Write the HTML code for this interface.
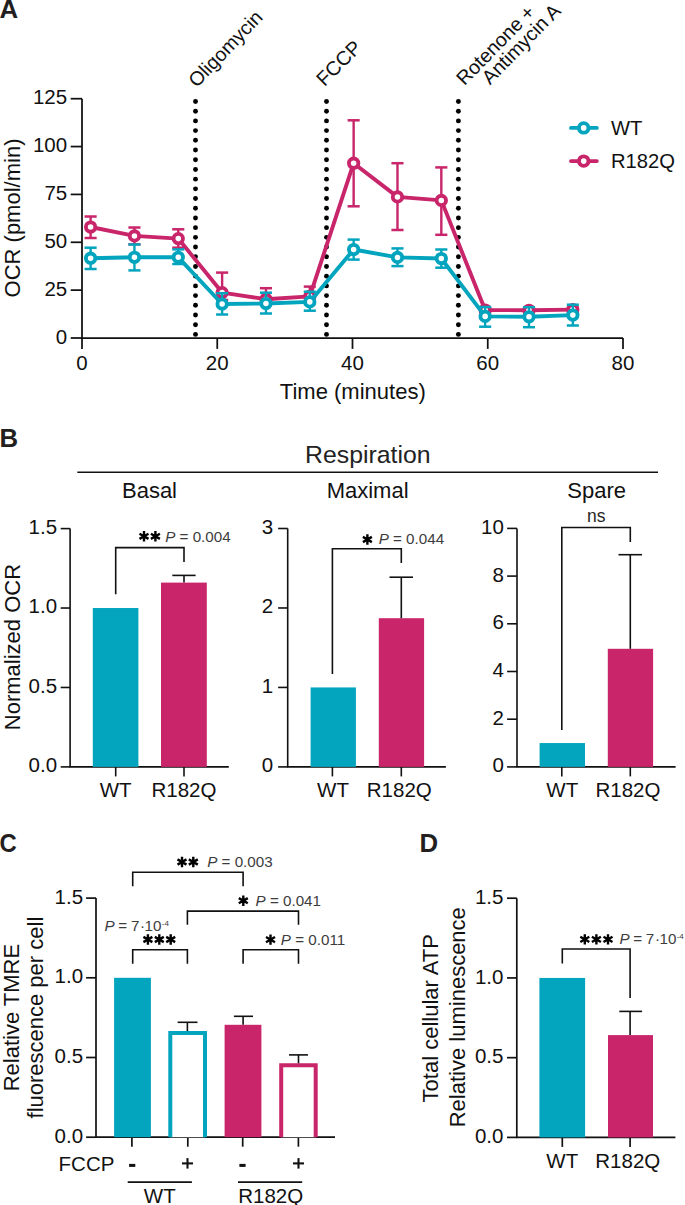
<!DOCTYPE html>
<html><head><meta charset="utf-8"><style>
html,body{margin:0;padding:0;background:#fff;}
svg{display:block;}
text{font-family:"Liberation Sans", sans-serif;}
</style></head><body>
<svg width="685" height="1205" viewBox="0 0 685 1205" font-family='"Liberation Sans", sans-serif'>
<rect width="685" height="1205" fill="#fff"/>
<text x="-0.64" y="17.50" font-size="25.8" text-anchor="start" font-weight="bold" font-style="normal" fill="#231f20">A</text>
<path d="M82 98.70V338H623.00" stroke="#111111" stroke-width="1.75" fill="none" stroke-linejoin="miter" stroke-linecap="butt"/>
<line x1="70.70" y1="338.00" x2="82.00" y2="338.00" stroke="#111111" stroke-width="1.75" stroke-linecap="butt"/>
<text x="67.20" y="343.50" font-size="20.5" text-anchor="end" font-weight="normal" font-style="normal" fill="#111111">0</text>
<line x1="70.70" y1="290.14" x2="82.00" y2="290.14" stroke="#111111" stroke-width="1.75" stroke-linecap="butt"/>
<text x="67.20" y="295.64" font-size="20.5" text-anchor="end" font-weight="normal" font-style="normal" fill="#111111">25</text>
<line x1="70.70" y1="242.28" x2="82.00" y2="242.28" stroke="#111111" stroke-width="1.75" stroke-linecap="butt"/>
<text x="67.20" y="247.78" font-size="20.5" text-anchor="end" font-weight="normal" font-style="normal" fill="#111111">50</text>
<line x1="70.70" y1="194.42" x2="82.00" y2="194.42" stroke="#111111" stroke-width="1.75" stroke-linecap="butt"/>
<text x="67.20" y="199.92" font-size="20.5" text-anchor="end" font-weight="normal" font-style="normal" fill="#111111">75</text>
<line x1="70.70" y1="146.56" x2="82.00" y2="146.56" stroke="#111111" stroke-width="1.75" stroke-linecap="butt"/>
<text x="67.20" y="152.06" font-size="20.5" text-anchor="end" font-weight="normal" font-style="normal" fill="#111111">100</text>
<line x1="70.70" y1="98.70" x2="82.00" y2="98.70" stroke="#111111" stroke-width="1.75" stroke-linecap="butt"/>
<text x="67.20" y="104.20" font-size="20.5" text-anchor="end" font-weight="normal" font-style="normal" fill="#111111">125</text>
<line x1="82.00" y1="338.00" x2="82.00" y2="348.90" stroke="#111111" stroke-width="1.75" stroke-linecap="butt"/>
<text x="82.00" y="369.60" font-size="20.5" text-anchor="middle" font-weight="normal" font-style="normal" fill="#111111">0</text>
<line x1="217.25" y1="338.00" x2="217.25" y2="348.90" stroke="#111111" stroke-width="1.75" stroke-linecap="butt"/>
<text x="217.25" y="369.60" font-size="20.5" text-anchor="middle" font-weight="normal" font-style="normal" fill="#111111">20</text>
<line x1="352.50" y1="338.00" x2="352.50" y2="348.90" stroke="#111111" stroke-width="1.75" stroke-linecap="butt"/>
<text x="352.50" y="369.60" font-size="20.5" text-anchor="middle" font-weight="normal" font-style="normal" fill="#111111">40</text>
<line x1="487.75" y1="338.00" x2="487.75" y2="348.90" stroke="#111111" stroke-width="1.75" stroke-linecap="butt"/>
<text x="487.75" y="369.60" font-size="20.5" text-anchor="middle" font-weight="normal" font-style="normal" fill="#111111">60</text>
<line x1="623.00" y1="338.00" x2="623.00" y2="348.90" stroke="#111111" stroke-width="1.75" stroke-linecap="butt"/>
<text x="623.00" y="369.60" font-size="20.5" text-anchor="middle" font-weight="normal" font-style="normal" fill="#111111">80</text>
<text x="352.80" y="399.00" font-size="22" text-anchor="middle" font-weight="normal" font-style="normal" fill="#111111">Time (minutes)</text>
<text x="19.90" y="218.00" font-size="22" text-anchor="middle" font-weight="normal" font-style="normal" fill="#111111" transform="rotate(-90 19.90 218.00)">OCR (pmol/min)</text>
<circle cx="195.5" cy="101.50" r="2.45" fill="#000"/>
<circle cx="195.5" cy="111.20" r="2.45" fill="#000"/>
<circle cx="195.5" cy="120.91" r="2.45" fill="#000"/>
<circle cx="195.5" cy="130.61" r="2.45" fill="#000"/>
<circle cx="195.5" cy="140.32" r="2.45" fill="#000"/>
<circle cx="195.5" cy="150.02" r="2.45" fill="#000"/>
<circle cx="195.5" cy="159.72" r="2.45" fill="#000"/>
<circle cx="195.5" cy="169.43" r="2.45" fill="#000"/>
<circle cx="195.5" cy="179.13" r="2.45" fill="#000"/>
<circle cx="195.5" cy="188.84" r="2.45" fill="#000"/>
<circle cx="195.5" cy="198.54" r="2.45" fill="#000"/>
<circle cx="195.5" cy="208.24" r="2.45" fill="#000"/>
<circle cx="195.5" cy="217.95" r="2.45" fill="#000"/>
<circle cx="195.5" cy="227.65" r="2.45" fill="#000"/>
<circle cx="195.5" cy="237.36" r="2.45" fill="#000"/>
<circle cx="195.5" cy="247.06" r="2.45" fill="#000"/>
<circle cx="195.5" cy="256.76" r="2.45" fill="#000"/>
<circle cx="195.5" cy="266.47" r="2.45" fill="#000"/>
<circle cx="195.5" cy="276.17" r="2.45" fill="#000"/>
<circle cx="195.5" cy="285.88" r="2.45" fill="#000"/>
<circle cx="195.5" cy="295.58" r="2.45" fill="#000"/>
<circle cx="195.5" cy="305.28" r="2.45" fill="#000"/>
<circle cx="195.5" cy="314.99" r="2.45" fill="#000"/>
<circle cx="195.5" cy="324.69" r="2.45" fill="#000"/>
<circle cx="195.5" cy="334.40" r="2.45" fill="#000"/>
<circle cx="326.5" cy="101.50" r="2.45" fill="#000"/>
<circle cx="326.5" cy="111.20" r="2.45" fill="#000"/>
<circle cx="326.5" cy="120.91" r="2.45" fill="#000"/>
<circle cx="326.5" cy="130.61" r="2.45" fill="#000"/>
<circle cx="326.5" cy="140.32" r="2.45" fill="#000"/>
<circle cx="326.5" cy="150.02" r="2.45" fill="#000"/>
<circle cx="326.5" cy="159.72" r="2.45" fill="#000"/>
<circle cx="326.5" cy="169.43" r="2.45" fill="#000"/>
<circle cx="326.5" cy="179.13" r="2.45" fill="#000"/>
<circle cx="326.5" cy="188.84" r="2.45" fill="#000"/>
<circle cx="326.5" cy="198.54" r="2.45" fill="#000"/>
<circle cx="326.5" cy="208.24" r="2.45" fill="#000"/>
<circle cx="326.5" cy="217.95" r="2.45" fill="#000"/>
<circle cx="326.5" cy="227.65" r="2.45" fill="#000"/>
<circle cx="326.5" cy="237.36" r="2.45" fill="#000"/>
<circle cx="326.5" cy="247.06" r="2.45" fill="#000"/>
<circle cx="326.5" cy="256.76" r="2.45" fill="#000"/>
<circle cx="326.5" cy="266.47" r="2.45" fill="#000"/>
<circle cx="326.5" cy="276.17" r="2.45" fill="#000"/>
<circle cx="326.5" cy="285.88" r="2.45" fill="#000"/>
<circle cx="326.5" cy="295.58" r="2.45" fill="#000"/>
<circle cx="326.5" cy="305.28" r="2.45" fill="#000"/>
<circle cx="326.5" cy="314.99" r="2.45" fill="#000"/>
<circle cx="326.5" cy="324.69" r="2.45" fill="#000"/>
<circle cx="326.5" cy="334.40" r="2.45" fill="#000"/>
<circle cx="458.4" cy="101.50" r="2.45" fill="#000"/>
<circle cx="458.4" cy="111.20" r="2.45" fill="#000"/>
<circle cx="458.4" cy="120.91" r="2.45" fill="#000"/>
<circle cx="458.4" cy="130.61" r="2.45" fill="#000"/>
<circle cx="458.4" cy="140.32" r="2.45" fill="#000"/>
<circle cx="458.4" cy="150.02" r="2.45" fill="#000"/>
<circle cx="458.4" cy="159.72" r="2.45" fill="#000"/>
<circle cx="458.4" cy="169.43" r="2.45" fill="#000"/>
<circle cx="458.4" cy="179.13" r="2.45" fill="#000"/>
<circle cx="458.4" cy="188.84" r="2.45" fill="#000"/>
<circle cx="458.4" cy="198.54" r="2.45" fill="#000"/>
<circle cx="458.4" cy="208.24" r="2.45" fill="#000"/>
<circle cx="458.4" cy="217.95" r="2.45" fill="#000"/>
<circle cx="458.4" cy="227.65" r="2.45" fill="#000"/>
<circle cx="458.4" cy="237.36" r="2.45" fill="#000"/>
<circle cx="458.4" cy="247.06" r="2.45" fill="#000"/>
<circle cx="458.4" cy="256.76" r="2.45" fill="#000"/>
<circle cx="458.4" cy="266.47" r="2.45" fill="#000"/>
<circle cx="458.4" cy="276.17" r="2.45" fill="#000"/>
<circle cx="458.4" cy="285.88" r="2.45" fill="#000"/>
<circle cx="458.4" cy="295.58" r="2.45" fill="#000"/>
<circle cx="458.4" cy="305.28" r="2.45" fill="#000"/>
<circle cx="458.4" cy="314.99" r="2.45" fill="#000"/>
<circle cx="458.4" cy="324.69" r="2.45" fill="#000"/>
<circle cx="458.4" cy="334.40" r="2.45" fill="#000"/>
<text x="196.80" y="88.30" font-size="19.6" text-anchor="start" font-weight="normal" font-style="normal" fill="#111111" transform="rotate(-46.2 196.80 88.30)">Oligomycin</text>
<text x="324.40" y="87.20" font-size="20" text-anchor="start" font-weight="normal" font-style="normal" fill="#111111" transform="rotate(-45 324.40 87.20)">FCCP</text>
<text x="464.50" y="86.30" font-size="19.7" text-anchor="start" font-weight="normal" font-style="normal" fill="#111111" transform="rotate(-45.6 464.50 86.30)">Rotenone +</text>
<text x="490.00" y="85.50" font-size="19.7" text-anchor="start" font-weight="normal" font-style="normal" fill="#111111" transform="rotate(-45.6 490.00 85.50)">Antimycin A</text>
<line x1="90.60" y1="216.50" x2="90.60" y2="238.00" stroke="#C8256A" stroke-width="2.4" stroke-linecap="butt"/>
<line x1="84.55" y1="216.50" x2="96.65" y2="216.50" stroke="#C8256A" stroke-width="2.5" stroke-linecap="butt"/>
<line x1="84.55" y1="238.00" x2="96.65" y2="238.00" stroke="#C8256A" stroke-width="2.5" stroke-linecap="butt"/>
<line x1="134.44" y1="227.50" x2="134.44" y2="244.30" stroke="#C8256A" stroke-width="2.4" stroke-linecap="butt"/>
<line x1="128.39" y1="227.50" x2="140.49" y2="227.50" stroke="#C8256A" stroke-width="2.5" stroke-linecap="butt"/>
<line x1="128.39" y1="244.30" x2="140.49" y2="244.30" stroke="#C8256A" stroke-width="2.5" stroke-linecap="butt"/>
<line x1="178.28" y1="229.30" x2="178.28" y2="247.70" stroke="#C8256A" stroke-width="2.4" stroke-linecap="butt"/>
<line x1="172.23" y1="229.30" x2="184.33" y2="229.30" stroke="#C8256A" stroke-width="2.5" stroke-linecap="butt"/>
<line x1="172.23" y1="247.70" x2="184.33" y2="247.70" stroke="#C8256A" stroke-width="2.5" stroke-linecap="butt"/>
<line x1="222.12" y1="272.60" x2="222.12" y2="300.00" stroke="#C8256A" stroke-width="2.4" stroke-linecap="butt"/>
<line x1="216.07" y1="272.60" x2="228.17" y2="272.60" stroke="#C8256A" stroke-width="2.5" stroke-linecap="butt"/>
<line x1="216.07" y1="300.00" x2="228.17" y2="300.00" stroke="#C8256A" stroke-width="2.5" stroke-linecap="butt"/>
<line x1="265.96" y1="288.20" x2="265.96" y2="304.00" stroke="#C8256A" stroke-width="2.4" stroke-linecap="butt"/>
<line x1="259.91" y1="288.20" x2="272.01" y2="288.20" stroke="#C8256A" stroke-width="2.5" stroke-linecap="butt"/>
<line x1="259.91" y1="304.00" x2="272.01" y2="304.00" stroke="#C8256A" stroke-width="2.5" stroke-linecap="butt"/>
<line x1="309.80" y1="286.60" x2="309.80" y2="303.00" stroke="#C8256A" stroke-width="2.4" stroke-linecap="butt"/>
<line x1="303.75" y1="286.60" x2="315.85" y2="286.60" stroke="#C8256A" stroke-width="2.5" stroke-linecap="butt"/>
<line x1="303.75" y1="303.00" x2="315.85" y2="303.00" stroke="#C8256A" stroke-width="2.5" stroke-linecap="butt"/>
<line x1="353.64" y1="120.30" x2="353.64" y2="206.30" stroke="#C8256A" stroke-width="2.4" stroke-linecap="butt"/>
<line x1="347.59" y1="120.30" x2="359.69" y2="120.30" stroke="#C8256A" stroke-width="2.5" stroke-linecap="butt"/>
<line x1="347.59" y1="206.30" x2="359.69" y2="206.30" stroke="#C8256A" stroke-width="2.5" stroke-linecap="butt"/>
<line x1="397.48" y1="163.20" x2="397.48" y2="230.00" stroke="#C8256A" stroke-width="2.4" stroke-linecap="butt"/>
<line x1="391.43" y1="163.20" x2="403.53" y2="163.20" stroke="#C8256A" stroke-width="2.5" stroke-linecap="butt"/>
<line x1="391.43" y1="230.00" x2="403.53" y2="230.00" stroke="#C8256A" stroke-width="2.5" stroke-linecap="butt"/>
<line x1="441.32" y1="167.40" x2="441.32" y2="234.80" stroke="#C8256A" stroke-width="2.4" stroke-linecap="butt"/>
<line x1="435.27" y1="167.40" x2="447.37" y2="167.40" stroke="#C8256A" stroke-width="2.5" stroke-linecap="butt"/>
<line x1="435.27" y1="234.80" x2="447.37" y2="234.80" stroke="#C8256A" stroke-width="2.5" stroke-linecap="butt"/>
<line x1="485.16" y1="308.00" x2="485.16" y2="312.00" stroke="#C8256A" stroke-width="2.4" stroke-linecap="butt"/>
<line x1="479.11" y1="308.00" x2="491.21" y2="308.00" stroke="#C8256A" stroke-width="2.5" stroke-linecap="butt"/>
<line x1="479.11" y1="312.00" x2="491.21" y2="312.00" stroke="#C8256A" stroke-width="2.5" stroke-linecap="butt"/>
<line x1="529.00" y1="308.30" x2="529.00" y2="312.30" stroke="#C8256A" stroke-width="2.4" stroke-linecap="butt"/>
<line x1="522.95" y1="308.30" x2="535.05" y2="308.30" stroke="#C8256A" stroke-width="2.5" stroke-linecap="butt"/>
<line x1="522.95" y1="312.30" x2="535.05" y2="312.30" stroke="#C8256A" stroke-width="2.5" stroke-linecap="butt"/>
<line x1="572.84" y1="307.60" x2="572.84" y2="311.60" stroke="#C8256A" stroke-width="2.4" stroke-linecap="butt"/>
<line x1="566.79" y1="307.60" x2="578.89" y2="307.60" stroke="#C8256A" stroke-width="2.5" stroke-linecap="butt"/>
<line x1="566.79" y1="311.60" x2="578.89" y2="311.60" stroke="#C8256A" stroke-width="2.5" stroke-linecap="butt"/>
<path d="M90.60 227.00 L134.44 235.90 L178.28 238.60 L222.12 292.60 L265.96 299.20 L309.80 296.40 L353.64 163.20 L397.48 196.90 L441.32 200.40 L485.16 310.00 L529.00 310.30 L572.84 309.60" stroke="#C8256A" stroke-width="3.9" fill="none" stroke-linejoin="round" stroke-linecap="butt"/>
<circle cx="90.60" cy="227.00" r="4.7" fill="#fff" stroke="#C8256A" stroke-width="3.85"/>
<circle cx="134.44" cy="235.90" r="4.7" fill="#fff" stroke="#C8256A" stroke-width="3.85"/>
<circle cx="178.28" cy="238.60" r="4.7" fill="#fff" stroke="#C8256A" stroke-width="3.85"/>
<circle cx="222.12" cy="292.60" r="4.7" fill="#fff" stroke="#C8256A" stroke-width="3.85"/>
<circle cx="265.96" cy="299.20" r="4.7" fill="#fff" stroke="#C8256A" stroke-width="3.85"/>
<circle cx="309.80" cy="296.40" r="4.7" fill="#fff" stroke="#C8256A" stroke-width="3.85"/>
<circle cx="353.64" cy="163.20" r="4.7" fill="#fff" stroke="#C8256A" stroke-width="3.85"/>
<circle cx="397.48" cy="196.90" r="4.7" fill="#fff" stroke="#C8256A" stroke-width="3.85"/>
<circle cx="441.32" cy="200.40" r="4.7" fill="#fff" stroke="#C8256A" stroke-width="3.85"/>
<circle cx="485.16" cy="310.00" r="4.7" fill="#fff" stroke="#C8256A" stroke-width="3.85"/>
<circle cx="529.00" cy="310.30" r="4.7" fill="#fff" stroke="#C8256A" stroke-width="3.85"/>
<circle cx="572.84" cy="309.60" r="4.7" fill="#fff" stroke="#C8256A" stroke-width="3.85"/>
<line x1="90.60" y1="247.70" x2="90.60" y2="269.00" stroke="#03A4BE" stroke-width="2.4" stroke-linecap="butt"/>
<line x1="84.55" y1="247.70" x2="96.65" y2="247.70" stroke="#03A4BE" stroke-width="2.5" stroke-linecap="butt"/>
<line x1="84.55" y1="269.00" x2="96.65" y2="269.00" stroke="#03A4BE" stroke-width="2.5" stroke-linecap="butt"/>
<line x1="134.44" y1="244.50" x2="134.44" y2="270.40" stroke="#03A4BE" stroke-width="2.4" stroke-linecap="butt"/>
<line x1="128.39" y1="244.50" x2="140.49" y2="244.50" stroke="#03A4BE" stroke-width="2.5" stroke-linecap="butt"/>
<line x1="128.39" y1="270.40" x2="140.49" y2="270.40" stroke="#03A4BE" stroke-width="2.5" stroke-linecap="butt"/>
<line x1="178.28" y1="249.40" x2="178.28" y2="264.00" stroke="#03A4BE" stroke-width="2.4" stroke-linecap="butt"/>
<line x1="172.23" y1="249.40" x2="184.33" y2="249.40" stroke="#03A4BE" stroke-width="2.5" stroke-linecap="butt"/>
<line x1="172.23" y1="264.00" x2="184.33" y2="264.00" stroke="#03A4BE" stroke-width="2.5" stroke-linecap="butt"/>
<line x1="222.12" y1="293.20" x2="222.12" y2="314.50" stroke="#03A4BE" stroke-width="2.4" stroke-linecap="butt"/>
<line x1="216.07" y1="293.20" x2="228.17" y2="293.20" stroke="#03A4BE" stroke-width="2.5" stroke-linecap="butt"/>
<line x1="216.07" y1="314.50" x2="228.17" y2="314.50" stroke="#03A4BE" stroke-width="2.5" stroke-linecap="butt"/>
<line x1="265.96" y1="292.70" x2="265.96" y2="313.50" stroke="#03A4BE" stroke-width="2.4" stroke-linecap="butt"/>
<line x1="259.91" y1="292.70" x2="272.01" y2="292.70" stroke="#03A4BE" stroke-width="2.5" stroke-linecap="butt"/>
<line x1="259.91" y1="313.50" x2="272.01" y2="313.50" stroke="#03A4BE" stroke-width="2.5" stroke-linecap="butt"/>
<line x1="309.80" y1="291.70" x2="309.80" y2="310.70" stroke="#03A4BE" stroke-width="2.4" stroke-linecap="butt"/>
<line x1="303.75" y1="291.70" x2="315.85" y2="291.70" stroke="#03A4BE" stroke-width="2.5" stroke-linecap="butt"/>
<line x1="303.75" y1="310.70" x2="315.85" y2="310.70" stroke="#03A4BE" stroke-width="2.5" stroke-linecap="butt"/>
<line x1="353.64" y1="239.60" x2="353.64" y2="259.60" stroke="#03A4BE" stroke-width="2.4" stroke-linecap="butt"/>
<line x1="347.59" y1="239.60" x2="359.69" y2="239.60" stroke="#03A4BE" stroke-width="2.5" stroke-linecap="butt"/>
<line x1="347.59" y1="259.60" x2="359.69" y2="259.60" stroke="#03A4BE" stroke-width="2.5" stroke-linecap="butt"/>
<line x1="397.48" y1="248.40" x2="397.48" y2="266.10" stroke="#03A4BE" stroke-width="2.4" stroke-linecap="butt"/>
<line x1="391.43" y1="248.40" x2="403.53" y2="248.40" stroke="#03A4BE" stroke-width="2.5" stroke-linecap="butt"/>
<line x1="391.43" y1="266.10" x2="403.53" y2="266.10" stroke="#03A4BE" stroke-width="2.5" stroke-linecap="butt"/>
<line x1="441.32" y1="249.50" x2="441.32" y2="267.70" stroke="#03A4BE" stroke-width="2.4" stroke-linecap="butt"/>
<line x1="435.27" y1="249.50" x2="447.37" y2="249.50" stroke="#03A4BE" stroke-width="2.5" stroke-linecap="butt"/>
<line x1="435.27" y1="267.70" x2="447.37" y2="267.70" stroke="#03A4BE" stroke-width="2.5" stroke-linecap="butt"/>
<line x1="485.16" y1="307.00" x2="485.16" y2="326.70" stroke="#03A4BE" stroke-width="2.4" stroke-linecap="butt"/>
<line x1="479.11" y1="307.00" x2="491.21" y2="307.00" stroke="#03A4BE" stroke-width="2.5" stroke-linecap="butt"/>
<line x1="479.11" y1="326.70" x2="491.21" y2="326.70" stroke="#03A4BE" stroke-width="2.5" stroke-linecap="butt"/>
<line x1="529.00" y1="307.20" x2="529.00" y2="327.20" stroke="#03A4BE" stroke-width="2.4" stroke-linecap="butt"/>
<line x1="522.95" y1="307.20" x2="535.05" y2="307.20" stroke="#03A4BE" stroke-width="2.5" stroke-linecap="butt"/>
<line x1="522.95" y1="327.20" x2="535.05" y2="327.20" stroke="#03A4BE" stroke-width="2.5" stroke-linecap="butt"/>
<line x1="572.84" y1="304.70" x2="572.84" y2="325.50" stroke="#03A4BE" stroke-width="2.4" stroke-linecap="butt"/>
<line x1="566.79" y1="304.70" x2="578.89" y2="304.70" stroke="#03A4BE" stroke-width="2.5" stroke-linecap="butt"/>
<line x1="566.79" y1="325.50" x2="578.89" y2="325.50" stroke="#03A4BE" stroke-width="2.5" stroke-linecap="butt"/>
<path d="M90.60 258.20 L134.44 257.30 L178.28 257.30 L222.12 304.00 L265.96 303.50 L309.80 301.90 L353.64 249.50 L397.48 257.40 L441.32 258.50 L485.16 316.40 L529.00 316.80 L572.84 315.10" stroke="#03A4BE" stroke-width="3.9" fill="none" stroke-linejoin="round" stroke-linecap="butt"/>
<circle cx="90.60" cy="258.20" r="4.7" fill="#fff" stroke="#03A4BE" stroke-width="3.85"/>
<circle cx="134.44" cy="257.30" r="4.7" fill="#fff" stroke="#03A4BE" stroke-width="3.85"/>
<circle cx="178.28" cy="257.30" r="4.7" fill="#fff" stroke="#03A4BE" stroke-width="3.85"/>
<circle cx="222.12" cy="304.00" r="4.7" fill="#fff" stroke="#03A4BE" stroke-width="3.85"/>
<circle cx="265.96" cy="303.50" r="4.7" fill="#fff" stroke="#03A4BE" stroke-width="3.85"/>
<circle cx="309.80" cy="301.90" r="4.7" fill="#fff" stroke="#03A4BE" stroke-width="3.85"/>
<circle cx="353.64" cy="249.50" r="4.7" fill="#fff" stroke="#03A4BE" stroke-width="3.85"/>
<circle cx="397.48" cy="257.40" r="4.7" fill="#fff" stroke="#03A4BE" stroke-width="3.85"/>
<circle cx="441.32" cy="258.50" r="4.7" fill="#fff" stroke="#03A4BE" stroke-width="3.85"/>
<circle cx="485.16" cy="316.40" r="4.7" fill="#fff" stroke="#03A4BE" stroke-width="3.85"/>
<circle cx="529.00" cy="316.80" r="4.7" fill="#fff" stroke="#03A4BE" stroke-width="3.85"/>
<circle cx="572.84" cy="315.10" r="4.7" fill="#fff" stroke="#03A4BE" stroke-width="3.85"/>
<line x1="571.00" y1="127.90" x2="596.80" y2="127.90" stroke="#03A4BE" stroke-width="3.9" stroke-linecap="round"/>
<circle cx="583.7" cy="127.9" r="4.75" fill="#fff" stroke="#03A4BE" stroke-width="3.9"/>
<text x="611.00" y="134.90" font-size="20.2" text-anchor="start" font-weight="normal" font-style="normal" fill="#111111">WT</text>
<line x1="571.00" y1="161.10" x2="596.80" y2="161.10" stroke="#C8256A" stroke-width="3.9" stroke-linecap="round"/>
<circle cx="583.7" cy="161.1" r="4.75" fill="#fff" stroke="#C8256A" stroke-width="3.9"/>
<text x="611.00" y="168.10" font-size="20.2" text-anchor="start" font-weight="normal" font-style="normal" fill="#111111">R182Q</text>
<text x="-0.53" y="447.40" font-size="25.8" text-anchor="start" font-weight="bold" font-style="normal" fill="#231f20">B</text>
<line x1="77.30" y1="472.20" x2="658.00" y2="472.20" stroke="#111111" stroke-width="1.5" stroke-linecap="butt"/>
<text x="367.80" y="462.60" font-size="24.8" text-anchor="middle" font-weight="normal" font-style="normal" fill="#222">Respiration</text>
<text x="149.50" y="497.60" font-size="22" text-anchor="middle" font-weight="normal" font-style="normal" fill="#111111">Basal</text>
<text x="367.60" y="497.60" font-size="22" text-anchor="middle" font-weight="normal" font-style="normal" fill="#111111">Maximal</text>
<text x="596.70" y="498.00" font-size="22" text-anchor="middle" font-weight="normal" font-style="normal" fill="#111111">Spare</text>
<path d="M70.1 528.60V766.9H228.8" stroke="#111111" stroke-width="1.6" fill="none" stroke-linejoin="miter" stroke-linecap="butt"/>
<line x1="60.70" y1="766.90" x2="70.10" y2="766.90" stroke="#111111" stroke-width="1.6" stroke-linecap="butt"/>
<text x="57.10" y="772.30" font-size="20.5" text-anchor="end" font-weight="normal" font-style="normal" fill="#111111">0.0</text>
<line x1="60.70" y1="687.47" x2="70.10" y2="687.47" stroke="#111111" stroke-width="1.6" stroke-linecap="butt"/>
<text x="57.10" y="692.87" font-size="20.5" text-anchor="end" font-weight="normal" font-style="normal" fill="#111111">0.5</text>
<line x1="60.70" y1="608.03" x2="70.10" y2="608.03" stroke="#111111" stroke-width="1.6" stroke-linecap="butt"/>
<text x="57.10" y="613.43" font-size="20.5" text-anchor="end" font-weight="normal" font-style="normal" fill="#111111">1.0</text>
<line x1="60.70" y1="528.60" x2="70.10" y2="528.60" stroke="#111111" stroke-width="1.6" stroke-linecap="butt"/>
<text x="57.10" y="534.00" font-size="20.5" text-anchor="end" font-weight="normal" font-style="normal" fill="#111111">1.5</text>
<line x1="115.70" y1="766.90" x2="115.70" y2="776.40" stroke="#111111" stroke-width="1.6" stroke-linecap="butt"/>
<line x1="184.00" y1="766.90" x2="184.00" y2="776.40" stroke="#111111" stroke-width="1.6" stroke-linecap="butt"/>
<text x="115.70" y="797.30" font-size="20.5" text-anchor="middle" font-weight="normal" font-style="normal" fill="#111111">WT</text>
<text x="184.00" y="797.30" font-size="20.5" text-anchor="middle" font-weight="normal" font-style="normal" fill="#111111">R182Q</text>
<rect x="92.80" y="608.03" width="45.60" height="158.87" fill="#03A4BE"/>
<rect x="161.00" y="582.60" width="45.80" height="184.30" fill="#C8256A"/>
<line x1="184.00" y1="582.60" x2="184.00" y2="575.40" stroke="#111111" stroke-width="1.6" stroke-linecap="butt"/>
<line x1="172.30" y1="575.40" x2="195.60" y2="575.40" stroke="#111111" stroke-width="1.6" stroke-linecap="butt"/>
<path d="M115.7 594.3V547.6H184V562" stroke="#111111" stroke-width="1.6" fill="none" stroke-linejoin="miter" stroke-linecap="butt"/>
<path d="M144.00 531.10L144.00 541.50M139.50 533.70L148.50 538.90M148.50 533.70L139.50 538.90" stroke="#000" stroke-width="2.4" fill="none" stroke-linejoin="miter" stroke-linecap="butt"/>
<path d="M155.40 531.10L155.40 541.50M150.90 533.70L159.90 538.90M159.90 533.70L150.90 538.90" stroke="#000" stroke-width="2.4" fill="none" stroke-linejoin="miter" stroke-linecap="butt"/>
<text x="165.23" y="541.80" font-size="15.2" text-anchor="start" font-weight="normal" font-style="normal" fill="#3d3d3d"><tspan font-style="italic">P</tspan> = 0.004</text>
<path d="M287.7 528.50V766.9H445.9" stroke="#111111" stroke-width="1.6" fill="none" stroke-linejoin="miter" stroke-linecap="butt"/>
<line x1="278.10" y1="766.90" x2="287.70" y2="766.90" stroke="#111111" stroke-width="1.6" stroke-linecap="butt"/>
<text x="273.20" y="772.30" font-size="20.5" text-anchor="end" font-weight="normal" font-style="normal" fill="#111111">0</text>
<line x1="278.10" y1="687.43" x2="287.70" y2="687.43" stroke="#111111" stroke-width="1.6" stroke-linecap="butt"/>
<text x="273.20" y="692.83" font-size="20.5" text-anchor="end" font-weight="normal" font-style="normal" fill="#111111">1</text>
<line x1="278.10" y1="607.97" x2="287.70" y2="607.97" stroke="#111111" stroke-width="1.6" stroke-linecap="butt"/>
<text x="273.20" y="613.37" font-size="20.5" text-anchor="end" font-weight="normal" font-style="normal" fill="#111111">2</text>
<line x1="278.10" y1="528.50" x2="287.70" y2="528.50" stroke="#111111" stroke-width="1.6" stroke-linecap="butt"/>
<text x="273.20" y="533.90" font-size="20.5" text-anchor="end" font-weight="normal" font-style="normal" fill="#111111">3</text>
<line x1="332.40" y1="766.90" x2="332.40" y2="776.40" stroke="#111111" stroke-width="1.6" stroke-linecap="butt"/>
<line x1="401.30" y1="766.90" x2="401.30" y2="776.40" stroke="#111111" stroke-width="1.6" stroke-linecap="butt"/>
<text x="333.00" y="797.30" font-size="20.5" text-anchor="middle" font-weight="normal" font-style="normal" fill="#111111">WT</text>
<text x="399.30" y="797.30" font-size="20.5" text-anchor="middle" font-weight="normal" font-style="normal" fill="#111111">R182Q</text>
<rect x="310.60" y="687.43" width="45.30" height="79.47" fill="#03A4BE"/>
<rect x="378.80" y="618.20" width="45.30" height="148.70" fill="#C8256A"/>
<line x1="401.30" y1="618.20" x2="401.30" y2="577.20" stroke="#111111" stroke-width="1.6" stroke-linecap="butt"/>
<line x1="389.50" y1="577.20" x2="413.00" y2="577.20" stroke="#111111" stroke-width="1.6" stroke-linecap="butt"/>
<path d="M332.4 674V548.7H401.3V563.1" stroke="#111111" stroke-width="1.6" fill="none" stroke-linejoin="miter" stroke-linecap="butt"/>
<path d="M367.40 534.30L367.40 544.70M362.90 536.90L371.90 542.10M371.90 536.90L362.90 542.10" stroke="#000" stroke-width="2.4" fill="none" stroke-linejoin="miter" stroke-linecap="butt"/>
<text x="378.63" y="544.30" font-size="15.2" text-anchor="start" font-weight="normal" font-style="normal" fill="#3d3d3d"><tspan font-style="italic">P</tspan> = 0.044</text>
<path d="M517.0 528.40V766.9H675.6" stroke="#111111" stroke-width="1.6" fill="none" stroke-linejoin="miter" stroke-linecap="butt"/>
<line x1="507.10" y1="766.90" x2="517.00" y2="766.90" stroke="#111111" stroke-width="1.6" stroke-linecap="butt"/>
<text x="503.90" y="772.30" font-size="20.5" text-anchor="end" font-weight="normal" font-style="normal" fill="#111111">0</text>
<line x1="507.10" y1="719.20" x2="517.00" y2="719.20" stroke="#111111" stroke-width="1.6" stroke-linecap="butt"/>
<text x="503.90" y="724.60" font-size="20.5" text-anchor="end" font-weight="normal" font-style="normal" fill="#111111">2</text>
<line x1="507.10" y1="671.50" x2="517.00" y2="671.50" stroke="#111111" stroke-width="1.6" stroke-linecap="butt"/>
<text x="503.90" y="676.90" font-size="20.5" text-anchor="end" font-weight="normal" font-style="normal" fill="#111111">4</text>
<line x1="507.10" y1="623.80" x2="517.00" y2="623.80" stroke="#111111" stroke-width="1.6" stroke-linecap="butt"/>
<text x="503.90" y="629.20" font-size="20.5" text-anchor="end" font-weight="normal" font-style="normal" fill="#111111">6</text>
<line x1="507.10" y1="576.10" x2="517.00" y2="576.10" stroke="#111111" stroke-width="1.6" stroke-linecap="butt"/>
<text x="503.90" y="581.50" font-size="20.5" text-anchor="end" font-weight="normal" font-style="normal" fill="#111111">8</text>
<line x1="507.10" y1="528.40" x2="517.00" y2="528.40" stroke="#111111" stroke-width="1.6" stroke-linecap="butt"/>
<text x="503.90" y="533.80" font-size="20.5" text-anchor="end" font-weight="normal" font-style="normal" fill="#111111">10</text>
<line x1="561.80" y1="766.90" x2="561.80" y2="776.40" stroke="#111111" stroke-width="1.6" stroke-linecap="butt"/>
<line x1="630.30" y1="766.90" x2="630.30" y2="776.40" stroke="#111111" stroke-width="1.6" stroke-linecap="butt"/>
<text x="562.30" y="797.30" font-size="20.5" text-anchor="middle" font-weight="normal" font-style="normal" fill="#111111">WT</text>
<text x="628.00" y="797.30" font-size="20.5" text-anchor="middle" font-weight="normal" font-style="normal" fill="#111111">R182Q</text>
<rect x="539.60" y="743.05" width="45.40" height="23.85" fill="#03A4BE"/>
<rect x="607.80" y="648.80" width="45.30" height="118.10" fill="#C8256A"/>
<line x1="630.30" y1="648.80" x2="630.30" y2="554.70" stroke="#111111" stroke-width="1.6" stroke-linecap="butt"/>
<line x1="618.50" y1="554.70" x2="642.00" y2="554.70" stroke="#111111" stroke-width="1.6" stroke-linecap="butt"/>
<path d="M561.8 730V527.5H630.3V542" stroke="#111111" stroke-width="1.6" fill="none" stroke-linejoin="miter" stroke-linecap="butt"/>
<text x="596.30" y="521.70" font-size="17.5" text-anchor="middle" font-weight="normal" font-style="normal" fill="#262626">ns</text>
<text x="19.70" y="647.10" font-size="22" text-anchor="middle" font-weight="normal" font-style="normal" fill="#111111" transform="rotate(-90 19.70 647.10)">Normalized OCR</text>
<text transform="translate(-0.38 852.1) scale(0.9 1)" font-size="26.5" font-weight="bold" fill="#231f20">C</text>
<path d="M96 898.1V1137.2H335" stroke="#111111" stroke-width="1.7" fill="none" stroke-linejoin="miter" stroke-linecap="butt"/>
<line x1="86.10" y1="1137.20" x2="96.00" y2="1137.20" stroke="#111111" stroke-width="1.7" stroke-linecap="butt"/>
<text x="83.10" y="1142.80" font-size="20.5" text-anchor="end" font-weight="normal" font-style="normal" fill="#111111">0.0</text>
<line x1="86.10" y1="1057.50" x2="96.00" y2="1057.50" stroke="#111111" stroke-width="1.7" stroke-linecap="butt"/>
<text x="83.10" y="1063.10" font-size="20.5" text-anchor="end" font-weight="normal" font-style="normal" fill="#111111">0.5</text>
<line x1="86.10" y1="977.80" x2="96.00" y2="977.80" stroke="#111111" stroke-width="1.7" stroke-linecap="butt"/>
<text x="83.10" y="983.40" font-size="20.5" text-anchor="end" font-weight="normal" font-style="normal" fill="#111111">1.0</text>
<line x1="86.10" y1="898.10" x2="96.00" y2="898.10" stroke="#111111" stroke-width="1.7" stroke-linecap="butt"/>
<text x="83.10" y="903.70" font-size="20.5" text-anchor="end" font-weight="normal" font-style="normal" fill="#111111">1.5</text>
<line x1="131.90" y1="1137.20" x2="131.90" y2="1146.70" stroke="#111111" stroke-width="1.7" stroke-linecap="butt"/>
<line x1="187.80" y1="1137.20" x2="187.80" y2="1146.70" stroke="#111111" stroke-width="1.7" stroke-linecap="butt"/>
<line x1="242.70" y1="1137.20" x2="242.70" y2="1146.70" stroke="#111111" stroke-width="1.7" stroke-linecap="butt"/>
<line x1="298.40" y1="1137.20" x2="298.40" y2="1146.70" stroke="#111111" stroke-width="1.7" stroke-linecap="butt"/>
<rect x="114.10" y="977.80" width="36.80" height="159.40" fill="#03A4BE"/>
<rect x="224.60" y="1024.80" width="36.80" height="112.40" fill="#C8256A"/>
<path d="M170.30 1137.20V1033.00H205.00V1137.20" fill="#fff" stroke="#03A4BE" stroke-width="4.0" stroke-linejoin="miter"/>
<path d="M281.20 1137.20V1065.30H315.70V1137.20" fill="#fff" stroke="#C8256A" stroke-width="4.0" stroke-linejoin="miter"/>
<line x1="187.40" y1="1031.10" x2="187.40" y2="1022.30" stroke="#111111" stroke-width="1.6" stroke-linecap="butt"/>
<line x1="177.60" y1="1022.30" x2="197.50" y2="1022.30" stroke="#111111" stroke-width="1.6" stroke-linecap="butt"/>
<line x1="243.10" y1="1024.80" x2="243.10" y2="1016.30" stroke="#111111" stroke-width="1.6" stroke-linecap="butt"/>
<line x1="233.90" y1="1016.30" x2="253.00" y2="1016.30" stroke="#111111" stroke-width="1.6" stroke-linecap="butt"/>
<line x1="298.50" y1="1063.30" x2="298.50" y2="1054.90" stroke="#111111" stroke-width="1.6" stroke-linecap="butt"/>
<line x1="289.00" y1="1054.90" x2="308.00" y2="1054.90" stroke="#111111" stroke-width="1.6" stroke-linecap="butt"/>
<path d="M132.7 886.3V872.2H243.1V886.3" stroke="#111111" stroke-width="1.6" fill="none" stroke-linejoin="miter" stroke-linecap="butt"/>
<path d="M187.4 924.8V911.1H298.5V924.8" stroke="#111111" stroke-width="1.6" fill="none" stroke-linejoin="miter" stroke-linecap="butt"/>
<path d="M132.7 963.7V949.7H187.4V963.7" stroke="#111111" stroke-width="1.6" fill="none" stroke-linejoin="miter" stroke-linecap="butt"/>
<path d="M243.1 963.7V949.7H298.5V963.7" stroke="#111111" stroke-width="1.6" fill="none" stroke-linejoin="miter" stroke-linecap="butt"/>
<path d="M182.00 856.80L182.00 867.20M177.50 859.40L186.50 864.60M186.50 859.40L177.50 864.60" stroke="#000" stroke-width="2.4" fill="none" stroke-linejoin="miter" stroke-linecap="butt"/>
<path d="M193.30 856.80L193.30 867.20M188.80 859.40L197.80 864.60M197.80 859.40L188.80 864.60" stroke="#000" stroke-width="2.4" fill="none" stroke-linejoin="miter" stroke-linecap="butt"/>
<text x="207.23" y="867.20" font-size="15.2" text-anchor="start" font-weight="normal" font-style="normal" fill="#3d3d3d"><tspan font-style="italic">P</tspan> = 0.003</text>
<path d="M243.30 895.50L243.30 905.90M238.80 898.10L247.80 903.30M247.80 898.10L238.80 903.30" stroke="#000" stroke-width="2.4" fill="none" stroke-linejoin="miter" stroke-linecap="butt"/>
<text x="255.53" y="905.60" font-size="15.2" text-anchor="start" font-weight="normal" font-style="normal" fill="#3d3d3d"><tspan font-style="italic">P</tspan> = 0.041</text>
<path d="M147.90 934.30L147.90 944.70M143.40 936.90L152.40 942.10M152.40 936.90L143.40 942.10" stroke="#000" stroke-width="2.4" fill="none" stroke-linejoin="miter" stroke-linecap="butt"/>
<path d="M159.30 934.30L159.30 944.70M154.80 936.90L163.80 942.10M163.80 936.90L154.80 942.10" stroke="#000" stroke-width="2.4" fill="none" stroke-linejoin="miter" stroke-linecap="butt"/>
<path d="M170.70 934.30L170.70 944.70M166.20 936.90L175.20 942.10M175.20 936.90L166.20 942.10" stroke="#000" stroke-width="2.4" fill="none" stroke-linejoin="miter" stroke-linecap="butt"/>
<text x="104.53" y="931.20" font-size="15.2" text-anchor="start" font-weight="normal" font-style="italic" fill="#3d3d3d">P</text>
<text x="118.26" y="931.20" font-size="15.2" text-anchor="start" font-weight="normal" font-style="normal" fill="#3d3d3d">=</text>
<text x="130.91" y="931.20" font-size="15.2" text-anchor="start" font-weight="normal" font-style="normal" fill="#3d3d3d">7</text>
<text x="140.07" y="931.20" font-size="15.2" text-anchor="start" font-weight="normal" font-style="normal" fill="#3d3d3d">·</text>
<text x="144.54" y="931.20" font-size="15.2" text-anchor="start" font-weight="normal" font-style="normal" fill="#3d3d3d">10</text>
<text x="161.80" y="925.70" font-size="8" text-anchor="start" font-weight="normal" font-style="normal" fill="#3d3d3d">-4</text>
<path d="M270.50 934.40L270.50 944.80M266.00 937.00L275.00 942.20M275.00 937.00L266.00 942.20" stroke="#000" stroke-width="2.4" fill="none" stroke-linejoin="miter" stroke-linecap="butt"/>
<text x="280.83" y="944.70" font-size="15.2" text-anchor="start" font-weight="normal" font-style="normal" fill="#3d3d3d"><tspan font-style="italic">P</tspan> = 0.011</text>
<text x="58.60" y="1170.90" font-size="20.5" text-anchor="start" font-weight="normal" font-style="normal" fill="#111111">FCCP</text>
<rect x="129.10" y="1163.90" width="6.20" height="3.00" fill="#111111"/>
<rect x="239.40" y="1163.90" width="6.20" height="3.00" fill="#111111"/>
<line x1="182.00" y1="1163.40" x2="193.00" y2="1163.40" stroke="#111111" stroke-width="2.1" stroke-linecap="butt"/>
<line x1="187.50" y1="1158.10" x2="187.50" y2="1168.60" stroke="#111111" stroke-width="2.1" stroke-linecap="butt"/>
<line x1="293.00" y1="1163.40" x2="304.00" y2="1163.40" stroke="#111111" stroke-width="2.1" stroke-linecap="butt"/>
<line x1="298.50" y1="1158.10" x2="298.50" y2="1168.60" stroke="#111111" stroke-width="2.1" stroke-linecap="butt"/>
<line x1="127.70" y1="1182.10" x2="191.90" y2="1182.10" stroke="#111111" stroke-width="1.6" stroke-linecap="butt"/>
<line x1="238.00" y1="1182.10" x2="302.20" y2="1182.10" stroke="#111111" stroke-width="1.6" stroke-linecap="butt"/>
<text x="159.80" y="1203.30" font-size="20.5" text-anchor="middle" font-weight="normal" font-style="normal" fill="#111111">WT</text>
<text x="270.70" y="1203.30" font-size="20.5" text-anchor="middle" font-weight="normal" font-style="normal" fill="#111111">R182Q</text>
<text x="19.40" y="1017.60" font-size="22" text-anchor="middle" font-weight="normal" font-style="normal" fill="#111111" transform="rotate(-90 19.40 1017.60)">Relative TMRE</text>
<text x="42.90" y="1017.60" font-size="22" text-anchor="middle" font-weight="normal" font-style="normal" fill="#111111" transform="rotate(-90 42.90 1017.60)">fluorescence per cell</text>
<text x="419.40" y="852.00" font-size="25.8" text-anchor="start" font-weight="bold" font-style="normal" fill="#231f20">D</text>
<path d="M516.8 898.2V1137.4H675.4" stroke="#111111" stroke-width="1.7" fill="none" stroke-linejoin="miter" stroke-linecap="butt"/>
<line x1="507.00" y1="1137.40" x2="516.80" y2="1137.40" stroke="#111111" stroke-width="1.7" stroke-linecap="butt"/>
<text x="503.40" y="1143.00" font-size="20.5" text-anchor="end" font-weight="normal" font-style="normal" fill="#111111">0.0</text>
<line x1="507.00" y1="1057.67" x2="516.80" y2="1057.67" stroke="#111111" stroke-width="1.7" stroke-linecap="butt"/>
<text x="503.40" y="1063.27" font-size="20.5" text-anchor="end" font-weight="normal" font-style="normal" fill="#111111">0.5</text>
<line x1="507.00" y1="977.93" x2="516.80" y2="977.93" stroke="#111111" stroke-width="1.7" stroke-linecap="butt"/>
<text x="503.40" y="983.53" font-size="20.5" text-anchor="end" font-weight="normal" font-style="normal" fill="#111111">1.0</text>
<line x1="507.00" y1="898.20" x2="516.80" y2="898.20" stroke="#111111" stroke-width="1.7" stroke-linecap="butt"/>
<text x="503.40" y="903.80" font-size="20.5" text-anchor="end" font-weight="normal" font-style="normal" fill="#111111">1.5</text>
<line x1="562.30" y1="1137.40" x2="562.30" y2="1146.90" stroke="#111111" stroke-width="1.7" stroke-linecap="butt"/>
<line x1="630.10" y1="1137.40" x2="630.10" y2="1146.90" stroke="#111111" stroke-width="1.7" stroke-linecap="butt"/>
<rect x="539.40" y="977.93" width="45.70" height="159.47" fill="#03A4BE"/>
<rect x="608.00" y="1035.10" width="45.00" height="102.30" fill="#C8256A"/>
<line x1="630.10" y1="1035.10" x2="630.10" y2="1011.40" stroke="#111111" stroke-width="1.6" stroke-linecap="butt"/>
<line x1="619.30" y1="1011.40" x2="642.10" y2="1011.40" stroke="#111111" stroke-width="1.6" stroke-linecap="butt"/>
<path d="M562.3 963.5V949H630.1V998.1" stroke="#111111" stroke-width="1.6" fill="none" stroke-linejoin="miter" stroke-linecap="butt"/>
<path d="M584.80 934.20L584.80 944.60M580.30 936.80L589.30 942.00M589.30 936.80L580.30 942.00" stroke="#000" stroke-width="2.4" fill="none" stroke-linejoin="miter" stroke-linecap="butt"/>
<path d="M596.40 934.20L596.40 944.60M591.90 936.80L600.90 942.00M600.90 936.80L591.90 942.00" stroke="#000" stroke-width="2.4" fill="none" stroke-linejoin="miter" stroke-linecap="butt"/>
<path d="M608.00 934.20L608.00 944.60M603.50 936.80L612.50 942.00M612.50 936.80L603.50 942.00" stroke="#000" stroke-width="2.4" fill="none" stroke-linejoin="miter" stroke-linecap="butt"/>
<text x="619.43" y="944.40" font-size="15.2" text-anchor="start" font-weight="normal" font-style="italic" fill="#3d3d3d">P</text>
<text x="633.16" y="944.40" font-size="15.2" text-anchor="start" font-weight="normal" font-style="normal" fill="#3d3d3d">=</text>
<text x="645.81" y="944.40" font-size="15.2" text-anchor="start" font-weight="normal" font-style="normal" fill="#3d3d3d">7</text>
<text x="654.97" y="944.40" font-size="15.2" text-anchor="start" font-weight="normal" font-style="normal" fill="#3d3d3d">·</text>
<text x="659.44" y="944.40" font-size="15.2" text-anchor="start" font-weight="normal" font-style="normal" fill="#3d3d3d">10</text>
<text x="676.70" y="938.90" font-size="8" text-anchor="start" font-weight="normal" font-style="normal" fill="#3d3d3d">-4</text>
<text x="562.30" y="1168.00" font-size="20.5" text-anchor="middle" font-weight="normal" font-style="normal" fill="#111111">WT</text>
<text x="627.80" y="1168.00" font-size="20.5" text-anchor="middle" font-weight="normal" font-style="normal" fill="#111111">R182Q</text>
<text x="437.90" y="1018.20" font-size="22" text-anchor="middle" font-weight="normal" font-style="normal" fill="#111111" transform="rotate(-90 437.90 1018.20)">Total cellular ATP</text>
<text x="464.80" y="1017.20" font-size="22" text-anchor="middle" font-weight="normal" font-style="normal" fill="#111111" transform="rotate(-90 464.80 1017.20)">Relative luminescence</text>
</svg>
</body></html>
